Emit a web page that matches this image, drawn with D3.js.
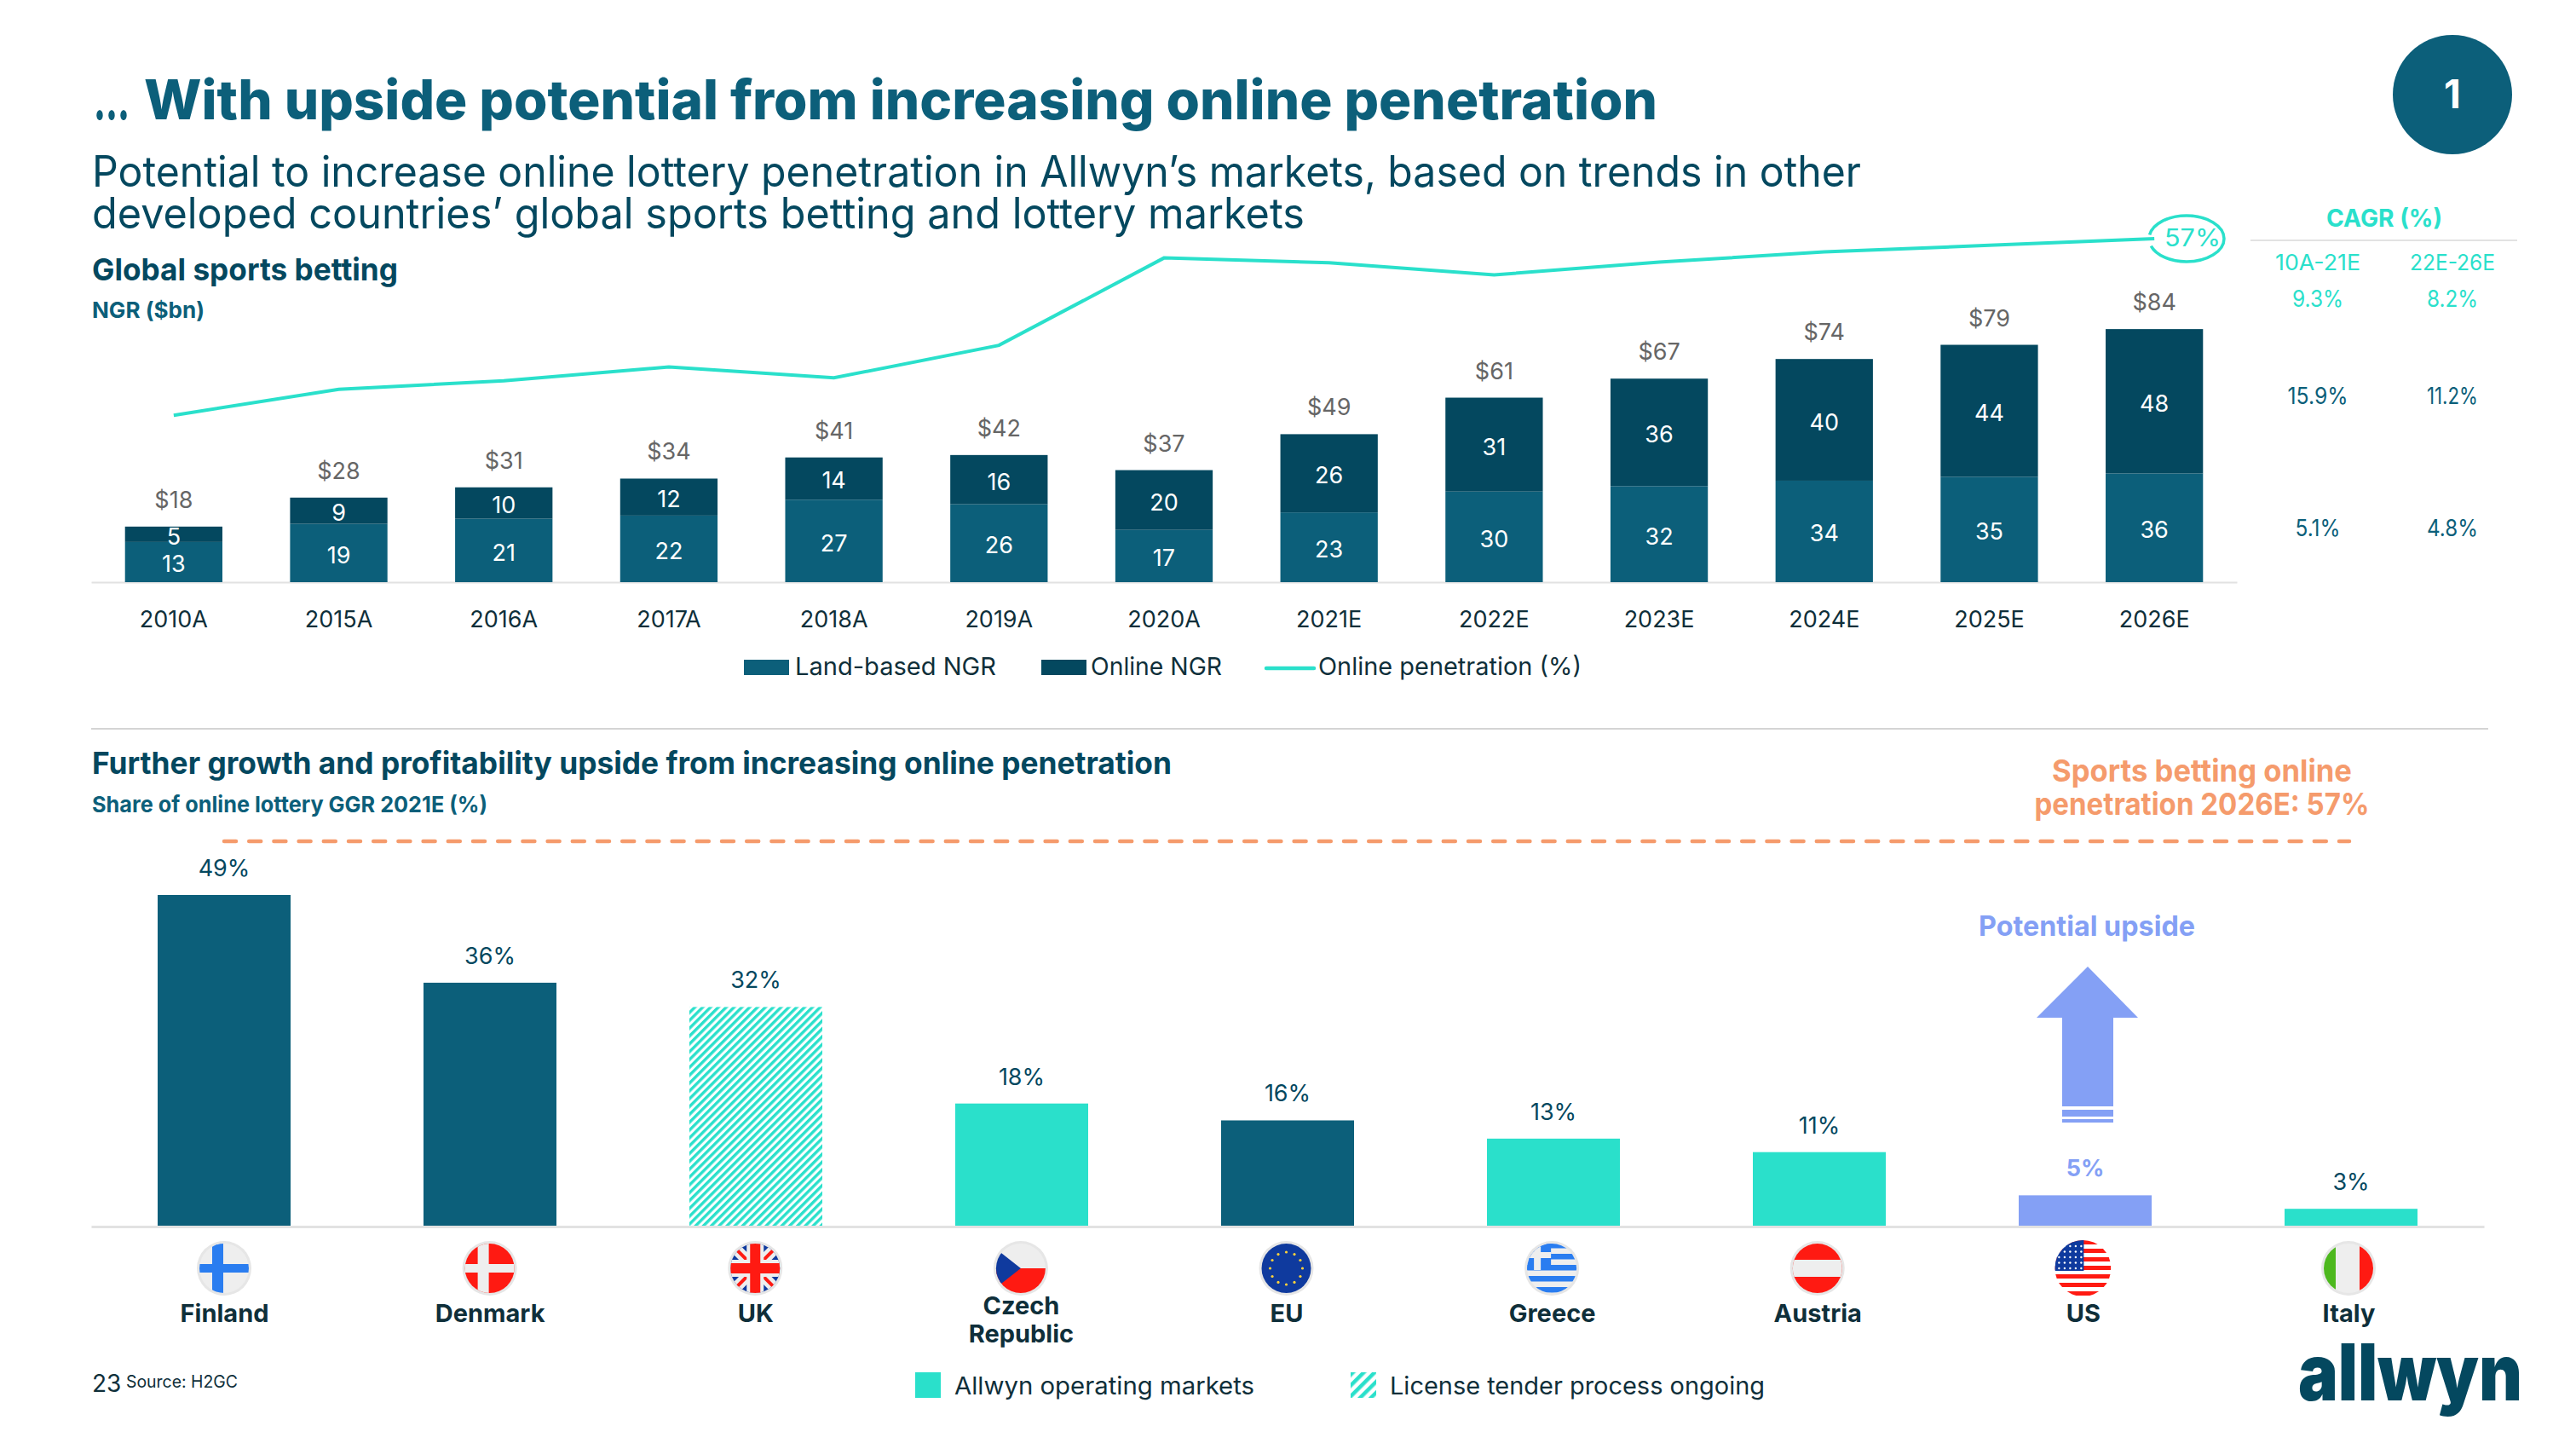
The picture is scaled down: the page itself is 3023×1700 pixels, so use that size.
<!DOCTYPE html>
<html>
<head>
<meta charset="utf-8">
<title>Online penetration</title>
<script src="https://cdn.jsdelivr.net/npm/d3@7"></script>
<style>
  html, body { margin: 0; padding: 0; background: #fff; }
  svg { display: block; }
  text { font-family: Inter, "Open Sans", sans-serif; }
</style>
</head>
<body>
<div class="chart"></div>
<script>
//chart values
var years = ["2010A", "2015A", "2016A", "2017A", "2018A", "2019A", "2020A", "2021E", "2022E", "2023E", "2024E", "2025E", "2026E"];
var landNGR = [13.3, 19.3, 21.0, 22.05, 27.3, 25.8, 17.3, 23.1, 30.0, 31.8, 33.6, 34.9, 36.0];
var onlineNGR = [5.1, 8.7, 10.4, 12.25, 14.0, 16.3, 19.8, 25.9, 31.1, 35.6, 40.3, 43.7, 47.8];
var penetration = [27.7, 32.0, 33.4, 35.7, 33.9, 39.3, 53.8, 53.0, 51.0, 53.1, 54.8, 55.9, 57.0];

var cagrPeriods = ["10A-21E", "22E-26E"];
var cagrTotal = ["9.3%", "8.2%"];
var cagrOnline = ["15.9%", "11.2%"];
var cagrLand = ["5.1%", "4.8%"];

var countries = ["Finland", "Denmark", "UK", "Czech Republic", "EU", "Greece", "Austria", "US", "Italy"];
var onlineShare = [49, 36, 32.4, 18.1, 15.6, 12.9, 10.9, 4.5, 2.5];
var marketType = ["other", "other", "tender", "operating", "other", "operating", "operating", "upside", "operating"];

//colours
var land = "#0C5F7A", online = "#04485F", teal = "#2AE0CB", orange = "#F59B6C",
    blue = "#84A0F5", ink = "#0F2F3A", grey = "#666666", rule = "#E2E2E2";

var svg = d3.select(".chart").append("svg")
            .attr("width", 3023)
            .attr("height", 1700);

var defs = svg.append("defs");

//hatch for the tender market, bar and legend
function hatch(id, size, stroke) {
  defs.append("pattern")
      .attr("id", id)
      .attr("patternUnits", "userSpaceOnUse")
      .attr("width", size)
      .attr("height", size)
      .attr("patternTransform", "rotate(45)")
    .append("rect")
      .attr("width", stroke)
      .attr("height", size)
      .attr("fill", teal);
}
hatch("hatchBar", 6.5, 3.4);
hatch("hatchKey", 9, 4.5);

//text helper, w forces the width of the string
function label(x, y, str, size, fill, weight, anchor, w) {
  var t = svg.append("text")
     .attr("x", x)
     .attr("y", y)
     .attr("font-size", size)
     .attr("font-weight", weight || 400)
     .attr("text-anchor", anchor || "start")
     .attr("fill", fill)
     .text(str);
  if (w) {
    t.attr("textLength", w).attr("lengthAdjust", "spacingAndGlyphs");
  }
  return t;
}

//header, dots and words set apart inside one text
var heading = svg.append("text")
    .attr("y", 140)
    .attr("font-size", 64)
    .attr("font-weight", 800)
    .attr("fill", land);
heading.append("tspan")
    .attr("x", 110)
    .attr("textLength", 42)
    .attr("lengthAdjust", "spacingAndGlyphs")
    .text("...");
heading.append("tspan")
    .attr("x", 169)
    .attr("textLength", 1776)
    .attr("lengthAdjust", "spacingAndGlyphs")
    .text("With upside potential from increasing online penetration");

//subtitle is one text with two lines
var subtitle = svg.append("text")
    .attr("y", 218.5)
    .attr("font-size", 50)
    .attr("fill", online);
subtitle.append("tspan")
    .attr("x", 108)
    .attr("textLength", 2076)
    .attr("lengthAdjust", "spacingAndGlyphs")
    .text("Potential to increase online lottery penetration in Allwyn\u2019s markets, based on trends in other");
subtitle.append("tspan")
    .attr("x", 108)
    .attr("dy", 49)
    .attr("textLength", 1423)
    .attr("lengthAdjust", "spacingAndGlyphs")
    .text("developed countries\u2019 global sports betting and lottery markets");

svg.append("circle").attr("cx", 2878).attr("cy", 111).attr("r", 70).attr("fill", land);
label(2878, 127, "1", 46, "#fff", 700, "middle");

label(108, 329, "Global sports betting", 36, online, 700, "start", 359);
label(108, 373, "NGR ($bn)", 26, land, 700, "start", 132);

//top chart scales
var xYear = d3.scaleBand()
              .domain(years)
              .range([107, 2625])
              .paddingInner(0.41)
              .paddingOuter(0.205);

var yNGR = d3.scaleLinear().domain([0, 84]).range([683, 385.4]);
var yPct = d3.scaleLinear().domain([0, 57]).range([683, 280]);

//x axis
var yearAxis = svg.append("g")
    .attr("transform", "translate(0, 683)")
    .call(d3.axisBottom(xYear).tickSize(0).tickSizeOuter(0));
yearAxis.select(".domain").attr("stroke", rule).attr("stroke-width", 2);
yearAxis.selectAll("text")
    .attr("y", 53)
    .attr("dy", 0)
    .attr("font-size", 27)
    .attr("font-family", "Inter")
    .attr("fill", ink);

//stacked bars
var columns = svg.selectAll(".col")
    .data(years)
    .enter()
    .append("g")
    .attr("class", "col");

columns.append("rect")
    .attr("x", d => xYear(d))
    .attr("y", (d, i) => yNGR(landNGR[i]))
    .attr("width", xYear.bandwidth())
    .attr("height", (d, i) => yNGR(0) - yNGR(landNGR[i]))
    .attr("fill", land);

columns.append("rect")
    .attr("x", d => xYear(d))
    .attr("y", (d, i) => yNGR(landNGR[i] + onlineNGR[i]))
    .attr("width", xYear.bandwidth())
    .attr("height", (d, i) => yNGR(0) - yNGR(onlineNGR[i]))
    .attr("fill", online);

//labels inside and above the bars
columns.append("text")
    .attr("x", d => xYear(d) + xYear.bandwidth() / 2)
    .attr("y", (d, i) => yNGR(landNGR[i] / 2) + 12)
    .attr("text-anchor", "middle")
    .attr("font-size", 27)
    .attr("fill", "#fff")
    .text((d, i) => Math.round(landNGR[i]));

columns.append("text")
    .attr("x", d => xYear(d) + xYear.bandwidth() / 2)
    .attr("y", (d, i) => yNGR(landNGR[i] + onlineNGR[i] / 2) + 12)
    .attr("text-anchor", "middle")
    .attr("font-size", 27)
    .attr("fill", "#fff")
    .text((d, i) => Math.round(onlineNGR[i]));

columns.append("text")
    .attr("x", d => xYear(d) + xYear.bandwidth() / 2)
    .attr("y", (d, i) => yNGR(landNGR[i] + onlineNGR[i]) - 22)
    .attr("text-anchor", "middle")
    .attr("font-size", 27)
    .attr("fill", grey)
    .text((d, i) => "$" + Math.round(landNGR[i] + onlineNGR[i]));

//penetration line
var penLine = d3.line()
    .x((d, i) => xYear(years[i]) + xYear.bandwidth() / 2)
    .y(d => yPct(d));

svg.append("path")
    .datum(penetration)
    .attr("d", penLine)
    .attr("fill", "none")
    .attr("stroke", teal)
    .attr("stroke-width", 4);

//circled last value
svg.append("ellipse")
    .attr("cx", 2566)
    .attr("cy", yPct(57))
    .attr("rx", 44)
    .attr("ry", 27)
    .attr("pathLength", 100)
    .attr("stroke-dasharray", "46 6 48")
    .attr("fill", "none")
    .attr("stroke", teal)
    .attr("stroke-width", 3.5);
label(2573, 289, "57%", 28, teal, 400, "middle", 66);

//top legend
svg.append("rect").attr("x", 873).attr("y", 774).attr("width", 53).attr("height", 18).attr("fill", land);
label(933, 792, "Land-based NGR", 29, ink, 400, "start", 236);
svg.append("rect").attr("x", 1222).attr("y", 774).attr("width", 53).attr("height", 18).attr("fill", online);
label(1280, 792, "Online NGR", 29, ink, 400, "start", 154);
svg.append("line").attr("x1", 1486).attr("x2", 1542).attr("y1", 784).attr("y2", 784)
   .attr("stroke", teal).attr("stroke-width", 4.5).attr("stroke-linecap", "round");
label(1547, 792, "Online penetration (%)", 29, ink, 400, "start", 309);

//CAGR table
var cagrX = [2720, 2878];
label(2798, 266, "CAGR (%)", 28, teal, 700, "middle", 136);
svg.append("line").attr("x1", 2641).attr("x2", 2954).attr("y1", 282).attr("y2", 282)
   .attr("stroke", rule).attr("stroke-width", 2);
cagrPeriods.forEach(function(d, i) {
  label(cagrX[i], 317, d, 26, teal, 400, "middle", 100);
  label(cagrX[i], 360, cagrTotal[i], 27, teal, 400, "middle", 60);
  label(cagrX[i], 474, cagrOnline[i], 27, land, 400, "middle", i ? 60 : 71);
  label(cagrX[i], 629, cagrLand[i], 27, land, 400, "middle", i ? 60 : 53);
});

//divider between the two charts
svg.append("line").attr("x1", 107).attr("x2", 2920).attr("y1", 855).attr("y2", 855)
   .attr("stroke", "#D4D4D4").attr("stroke-width", 2);

//bottom chart
label(108, 908, "Further growth and profitability upside from increasing online penetration", 36, online, 700, "start", 1267);
label(108, 953, "Share of online lottery GGR 2021E (%)", 26, land, 700, "start", 464);

label(2584, 917, "Sports betting online", 36, orange, 700, "middle", 352);
label(2584, 956, "penetration 2026E: 57%", 36, orange, 700, "middle", 393);

svg.append("line")
    .attr("x1", 263).attr("x2", 2757).attr("y1", 987).attr("y2", 987)
    .attr("stroke", orange)
    .attr("stroke-width", 4.5)
    .attr("stroke-dasharray", "14 15.2")
    .attr("stroke-linecap", "round");

var xShare = d3.scaleBand()
               .domain(countries)
               .range([107, 2915])
               .paddingInner(0.5)
               .paddingOuter(0.25);
var yShare = d3.scaleLinear().domain([0, 49]).range([1438, 1050]);

//labels and flags sit a touch left of their bars towards the right
var xFlag = d3.scalePoint().domain(countries).range([263, 2756]);

var shareAxis = svg.append("g")
    .attr("transform", "translate(0, 1439)")
    .call(d3.axisBottom(xShare).tickValues([]).tickSizeOuter(0));
shareAxis.select(".domain").attr("stroke", rule).attr("stroke-width", 3);

var countryAxis = svg.append("g")
    .attr("transform", "translate(0, 1438)")
    .call(d3.axisBottom(xFlag).tickSize(0).tickFormat(""));
countryAxis.select(".domain").remove();

countryAxis.selectAll(".tick text").each(function(d) {
  var t = d3.select(this)
      .attr("y", d === "Czech Republic" ? 104 : 113)
      .attr("dy", 0)
      .attr("font-family", "Inter")
      .attr("font-size", 29)
      .attr("font-weight", 700)
      .attr("fill", ink);
  var words = d === "Czech Republic" ? d.split(" ") : [d];
  words.forEach(function(w, i) {
    t.append("tspan").attr("x", 0).attr("dy", i ? 33 : 0).text(w);
  });
});

function shareFill(i) {
  if (marketType[i] === "operating") return teal;
  if (marketType[i] === "tender") return "url(#hatchBar)";
  if (marketType[i] === "upside") return blue;
  return land;
}

svg.selectAll(".share")
    .data(onlineShare)
    .enter()
    .append("rect")
    .attr("class", "share")
    .attr("x", (d, i) => xShare(countries[i]))
    .attr("y", d => yShare(d))
    .attr("width", xShare.bandwidth())
    .attr("height", d => yShare(0) - yShare(d))
    .attr("fill", (d, i) => shareFill(i));

svg.selectAll(".shareLabel")
    .data(onlineShare)
    .enter()
    .append("text")
    .attr("class", "shareLabel")
    .attr("x", (d, i) => xShare(countries[i]) + xShare.bandwidth() / 2)
    .attr("y", d => yShare(d) - 22)
    .attr("text-anchor", "middle")
    .attr("font-size", 27)
    .attr("font-weight", (d, i) => marketType[i] === "upside" ? 700 : 400)
    .attr("fill", (d, i) => marketType[i] === "upside" ? blue : online)
    .text(d => Math.round(d) + "%");

//potential upside arrow
label(2449, 1098, "Potential upside", 33, blue, 700, "middle", 254);
svg.append("path")
    .attr("d", "M2450,1134L2509,1194L2480,1194L2480,1298L2420,1298L2420,1194L2390,1194Z")
    .attr("fill", blue);
svg.append("rect").attr("x", 2420).attr("y", 1302).attr("width", 60).attr("height", 8).attr("fill", blue);
svg.append("rect").attr("x", 2420).attr("y", 1313).attr("width", 60).attr("height", 4).attr("fill", blue);

//flags
var fRed = "#FF1A12", fBlue = "#2A7DF0", fNavy = "#0F3A9E", fPale = "#EEEEEE";

defs.append("clipPath").attr("id", "flagClip").append("circle").attr("r", 29);
defs.append("clipPath").attr("id", "flagClipUS").append("circle").attr("r", 33);

function bar(g, x, y, w, h, fill) {
  return g.append("rect").attr("x", x).attr("y", y).attr("width", w).attr("height", h).attr("fill", fill);
}

function cross(g, bg, fg) {
  bar(g, -33, -33, 66, 66, bg);
  bar(g, -14, -33, 13, 66, fg);
  bar(g, -33, -5, 66, 10, fg);
}

var flagDraw = {
  "Finland": g => cross(g, fPale, fBlue),
  "Denmark": g => cross(g, fRed, fPale),
  "UK": function(g) {
    bar(g, -33, -33, 66, 66, fNavy);
    g.append("path").attr("d", "M-33,-33L33,33M33,-33L-33,33").attr("stroke", fPale).attr("stroke-width", 13);
    g.append("path").attr("d", "M-33,-33L33,33M33,-33L-33,33").attr("stroke", fRed).attr("stroke-width", 4);
    bar(g, -10, -33, 20, 66, fPale);
    bar(g, -33, -10, 66, 20, fPale);
    bar(g, -6, -33, 12, 66, fRed);
    bar(g, -33, -6, 66, 12, fRed);
  },
  "Czech Republic": function(g) {
    bar(g, -33, -33, 66, 33, fPale);
    bar(g, -33, 0, 66, 33, fRed);
    g.append("path").attr("d", "M-33,-26L0,0L-33,26Z").attr("fill", fNavy);
  },
  "EU": function(g) {
    bar(g, -33, -33, 66, 66, fNavy);
    d3.range(12).forEach(function(k) {
      var a = k * Math.PI / 6;
      g.append("circle").attr("cx", 19 * Math.cos(a)).attr("cy", 19 * Math.sin(a))
       .attr("r", 1.6).attr("fill", "#FFD23A");
    });
  },
  "Greece": function(g) {
    bar(g, -33, -33, 66, 66, fPale);
    d3.range(5).forEach(k => bar(g, -33, -30 + k * 13, 66, 6.5, fBlue));
    bar(g, -33, -33, 32, 35, fBlue);
    bar(g, -21, -33, 8, 35, fPale);
    bar(g, -33, -19, 32, 7, fPale);
  },
  "Austria": function(g) {
    bar(g, -33, -33, 66, 66, fRed);
    bar(g, -33, -10, 66, 20, fPale);
  },
  "US": function(g) {
    bar(g, -33, -33, 66, 66, "#fff");
    d3.range(7).forEach(k => bar(g, -33, -33 + k * 10, 66, 5, fRed));
    bar(g, -33, -33, 34, 36, fNavy);
    d3.range(5).forEach(function(r) {
      d3.range(5).forEach(function(c) {
        g.append("circle").attr("cx", -28 + c * 6.5).attr("cy", -26 + r * 6.5).attr("r", 1.2).attr("fill", "#fff");
      });
    });
  },
  "Italy": function(g) {
    bar(g, -33, -33, 66, 66, fPale);
    bar(g, -33, -33, 18, 66, "#4DB81E");
    bar(g, 13, -33, 20, 66, fRed);
  }
};

countries.forEach(function(c) {
  var g = svg.append("g").attr("transform", "translate(" + xFlag(c) + ", 1488)");
  if (c !== "US") {
    g.append("circle").attr("r", 32).attr("fill", "#E6E6E6");
  }
  var clipped = g.append("g").attr("clip-path", c === "US" ? "url(#flagClipUS)" : "url(#flagClip)");
  flagDraw[c](clipped);
});

//bottom legend
svg.append("rect").attr("x", 1074).attr("y", 1610).attr("width", 30).attr("height", 30).attr("fill", teal);
label(1120, 1636, "Allwyn operating markets", 29, ink, 400, "start", 352);
svg.append("rect").attr("x", 1585).attr("y", 1610).attr("width", 30).attr("height", 30).attr("fill", "url(#hatchKey)");
label(1631, 1636, "License tender process ongoing", 29, ink, 400, "start", 440);

//footer
label(108, 1633, "23", 28, ink, 400);
label(148, 1628, "Source: H2GC", 20, ink, 400, "start", 131);
label(2697, 1643, "allwyn", 92, online, 900, "start", 263);
</script>
</body>
</html>
